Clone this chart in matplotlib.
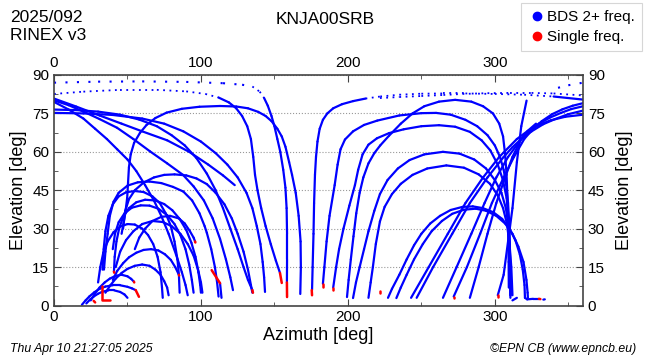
import matplotlib.pyplot as plt
from matplotlib.lines import Line2D

plt.rcParams['font.family'] = ['Liberation Sans', 'DejaVu Sans']

# Satellite tracks (azimuth deg, elevation deg)
tracks_upper = [
    [(343, 85), (350, 86), (360, 87)],
    [(0, 87), (30, 87.4), (60, 87.5), (90, 87.3), (115, 86.8), (128, 86.2), (135, 85.5), (140, 83.5),
     (143, 81), (145.5, 78), (148, 74), (150, 70), (152, 65), (154, 60), (156, 53), (157.5, 46),
     (158.3, 38), (158.6, 28), (158.6, 18), (158.5, 9)],
    [(46, 28), (48.5, 36), (49.8, 42), (50.4, 48), (51, 54), (52.2, 59), (54.5, 63.5), (58.5, 67.4),
     (63, 70.5), (69, 73.2), (76.6, 75.3), (87, 76.8), (99, 77.6), (113, 77.9), (124, 77.7), (132, 77),
     (139, 75.6), (144, 74), (148, 72), (152, 69), (155, 66), (157.5, 62), (160, 56), (162, 51),
     (164.5, 44), (166.5, 35), (167.8, 25), (168, 15), (167.6, 4.5)],
    [(0, 82.6), (20, 83.5), (45, 84.2), (70, 84.2), (90, 83.6), (103, 82.6), (112, 81.2), (119, 79.3),
     (124, 77), (128, 74), (131.5, 70), (134, 65), (135.6, 58), (136.8, 51), (138.5, 45), (141, 38),
     (144, 31), (147.5, 24), (151, 17.5), (153.8, 12.7)],
    [(0, 80.8), (15, 77.7), (31, 74.2), (46, 71), (60, 68), (77, 64.5), (92, 60), (105, 55), (115, 50.8),
     (123, 47)],
    [(0, 80.1), (10, 78.2), (19.7, 75.8), (31, 72.8), (42.9, 69.4), (54, 65), (65.3, 60.2), (77, 55.5),
     (87.8, 51), (95, 46.5), (102, 41), (108, 34), (113, 26), (117, 18), (120, 11), (121.8, 6)],
    [(0, 79.5), (10, 76.5), (20, 73), (28, 69), (36, 65), (43, 61), (50, 57), (56, 52.5), (62, 47),
     (68, 41), (73, 35), (78, 28), (83, 20), (87, 13), (89.5, 8), (91, 4)],
    [(0, 76.5), (15, 76.3), (30, 75.7), (45, 74.5), (58, 72.6), (70, 70), (80, 66.5), (89, 62.5),
     (97, 57.5), (104, 51.5), (110, 45), (115, 38), (120, 30), (125, 22), (129, 15), (132, 10), (135, 6)],
    [(0, 75.2), (20, 75), (40, 74.4), (60, 73), (75, 71), (88, 68), (100, 64), (110, 59.5), (118, 55),
     (125, 50), (131, 44), (135, 38), (138, 31), (140.5, 24), (142, 17), (143, 11), (143.6, 5.3)],
]

tracks_right = [
    [(175.6, 6), (176, 15), (176.6, 28), (177, 40), (177.6, 51), (178.3, 58), (179.3, 64), (180.8, 69),
     (183, 72.5), (186, 75), (190, 77), (196, 78.6), (203.5, 79.8), (212, 80.8), (222, 81.6), (235, 82.3),
     (250, 82.7), (265, 82.8), (280, 82.8), (300, 82.6), (320, 82.3), (340, 81.6), (360, 80.4)],
    [(221.8, 81), (235, 81.4), (250, 81.8), (265, 82.2), (278, 82.6), (295, 82.9), (310, 83), (325, 83),
     (340, 82.8), (360, 82)],
    [(183, 8.5), (184, 15), (185.5, 25), (187.5, 35), (191, 47), (193, 55), (195, 61), (198, 64.8),
     (203.5, 68), (211, 70.5), (220, 72.2), (235, 74.2), (250, 75.1), (260, 75.2), (270, 74.5), (280, 72.5),
     (288, 70), (295, 66.5), (300, 62.5), (303.5, 58), (306, 53), (307.8, 47), (309, 40), (309.8, 32),
     (310.2, 22), (310.4, 12), (310.5, 4)],
    [(190, 7), (192, 15), (194, 22), (197, 30), (201, 39), (204.8, 47), (207, 53), (210, 59), (214, 62.8),
     (219.8, 65.3), (228, 67.3), (238, 68.8), (250, 70), (262, 70.4), (273, 69.8), (283, 67.8), (291, 64.5),
     (297, 60.5), (302, 55), (305.5, 49), (308, 42), (309.5, 33), (310.2, 22), (310.5, 12), (310.6, 3)],
    [(199.4, 3.3), (200.5, 10), (202, 18), (203.8, 27), (205.7, 36), (208, 44), (210.5, 50), (214, 55.5),
     (218, 59.5), (222, 62.5), (228, 66.3), (236, 71), (244, 75), (252, 77.8), (262, 79.6), (273, 80.3),
     (284, 79.6), (292, 77.8), (298.7, 75), (303, 71), (305.6, 66), (307, 59), (308, 51), (308.7, 40),
     (309.1, 28), (309.4, 17), (309.5, 7)],
    [(203.5, 2.9), (205.5, 9), (208, 15), (211, 22), (214, 29), (218, 37), (221.8, 43.5), (227, 49),
     (234, 53.5), (242, 56.8), (252, 59), (264.7, 60), (276, 59.3), (286, 57), (294, 53.5), (300, 49),
     (304.5, 44), (307.5, 38), (309.3, 31), (310.2, 22), (310.6, 13), (310.8, 4)],
    [(214, 3), (215.5, 9), (217, 15), (219, 24), (221.8, 32.8), (225, 38.5), (230, 43.5), (236, 47.5),
     (244, 51), (254, 53.5), (267, 54.7), (279, 53.8), (289, 51.2), (296.7, 47.5), (302, 43), (305.6, 38),
     (308.2, 32), (310, 24), (311.2, 15), (312, 4)],
    [(227.3, 3), (230, 6.5), (235, 12), (240, 18), (245, 23.5), (250, 28), (256, 32), (262.7, 35),
     (270, 37.3), (278, 38.5), (285, 38.7), (292, 38), (299, 36.4), (305, 33.8), (310, 30), (314, 25.5),
     (317, 20), (319, 14), (320.2, 8), (320.5, 3), (322, 2.4), (326, 2.6), (330, 2.6)],
    [(233, 2.9), (236, 7), (240, 12), (245, 18), (251, 24), (257, 29), (264, 33), (271, 35.8), (279, 37.4),
     (287, 37.8), (294, 37), (301, 35), (307, 32), (312, 28), (316, 23), (319.5, 17), (321.5, 10),
     (322.3, 5), (322.5, 3)],
    [(243, 3), (255, 15), (268, 28), (280, 40), (292, 50), (303, 58), (315, 65), (322, 68), (330, 70.5),
     (338, 72.3), (348, 73.7), (360, 74.5)],
    [(246.8, 3), (258, 15), (271, 28), (283, 40), (295, 50), (306, 58), (312, 61.8), (318, 65), (325, 68),
     (333, 70.8), (341, 72.8), (350, 74.7), (360, 76.1)],
    [(264.7, 3), (274, 15), (284, 28), (293, 40), (301, 50), (309, 58), (318, 65), (324, 68.5), (330, 71),
     (338, 73.5), (345, 75.2), (352, 76.7), (360, 77.8)],
    [(272, 3.5), (281, 15), (290, 28), (298, 40), (306, 50), (313, 58), (320, 65), (326, 69), (332, 72),
     (339, 74.7), (346, 76.6), (353, 78), (360, 79)],
    [(283, 3), (289, 15), (295, 28), (301, 40), (307, 50), (312, 58), (318, 65), (323, 68.5), (328, 71)],
    [(302, 4), (306, 12), (309, 25), (312, 38), (315, 56), (318, 70), (321.6, 80)],
    [(312, 2), (315, 3)],
    [(333, 2.3), (334, 2.4)],
]

tracks_cluster = [
    [(34, 14), (35, 21), (36.5, 28), (38, 35), (40.5, 40.5), (44, 44), (50, 46.8), (57, 48.1), (65, 48.4),
     (73, 47.8), (81, 46.3), (88, 44.5), (94, 41), (99, 36), (102.5, 31), (104, 28.4), (107, 22),
     (109.5, 15), (111, 9), (112, 3.5)],
    [(47, 30), (48.5, 37), (51, 41.5), (55, 45), (61, 48), (68, 50), (75, 51), (82, 51.2), (90, 50.8),
     (97, 49.6), (104, 47.4), (110, 44), (116, 39.5), (121, 34), (125, 28), (129, 21), (132, 14), (134, 8),
     (135, 5)],
    [(33, 14), (33.8, 22), (35, 29), (37, 35), (40, 39.5), (44, 42.6), (49, 44.2), (55, 44.7), (61, 44.3),
     (67, 42.6), (72, 40), (76, 36), (79.5, 31), (82, 25), (84, 18), (85, 12), (85.5, 5)],
    [(40, 22), (41.5, 28), (44, 32.5), (48, 36), (53, 38.2), (59, 39.1), (65, 39), (71, 37.8), (77, 35.3),
     (82, 31.8), (86, 27.5), (89.5, 22), (92, 16), (93.8, 10), (95, 5)],
    [(42, 15), (45, 21), (49, 25.5), (54, 29), (60, 31.8), (67, 33), (74, 32.6), (80, 31), (86, 28),
     (91, 24), (95, 19.5), (98, 14), (100, 9), (101, 5)],
    [(30, 9), (31.5, 15), (33.5, 20.5), (36.5, 25), (40.5, 28.6), (45, 30.8), (50, 31.8), (55, 31.6),
     (60, 30), (64, 27.5), (67.5, 24), (70.5, 19), (72.5, 13), (73.5, 7), (74, 3)],
    [(55, 22), (58, 26.5), (62, 30), (67, 33), (73, 34.6), (79, 35), (85, 34), (89, 32), (92.5, 29),
     (95, 26.5), (96, 25)],
    [(40, 10), (43, 13.5), (47, 16.5), (51, 18.8), (56, 20.6), (61, 21.7), (66, 22), (71, 21.5),
     (75.5, 20), (79.5, 17.8), (82.5, 15), (85, 12)],
    [(35, 5), (38.5, 8), (42, 10.5), (46, 12.7), (50, 14.3), (55, 15.5), (60, 16), (65, 15.5), (69, 14),
     (72.5, 12), (75, 9.5), (77, 7), (78, 4)],
    [(25, 2), (28, 4.8), (31, 7), (34.5, 9), (38, 10.5), (42, 11.6), (46, 12), (50, 11.4), (52.5, 10.4),
     (54.4, 9.3)],
    [(19, 0.3), (21.5, 2), (24, 3.5), (27.5, 5.2), (31, 6.5), (35, 7.4), (40, 7.9), (45, 7.9), (50, 7.3),
     (53, 6.7), (55.6, 6)],
    [(22, 0.8), (24.5, 2.3), (27, 3.5), (30, 4.6), (33, 5.4), (37, 5.9), (41, 5.9), (45, 5.3), (48, 4.3),
     (50, 3)],
    [(40.8, 13.2), (41.3, 19), (42.5, 25), (44.3, 30), (47, 34.5), (51, 38), (56, 40.3), (62, 41.3),
     (69, 41), (75, 39.6), (80.5, 37.2), (85.5, 33.8), (90, 29.5), (93.5, 24.5), (96.3, 19), (98.3, 13),
     (99.5, 8), (100, 5)],
    [(113, 8.7), (114, 3)],
]

# single-frequency pieces
red_pieces = [
    [(33, 7.5), (33, 2), (38, 2)], [(27, 1.8), (28, 1.2)], [(107.3, 13.8), (113, 8.7)],
    [(153.8, 12.7), (155, 8.8)], [(158.5, 9), (158.6, 3.3)], [(135, 6), (135.4, 5)],
    [(175.4, 6), (175.6, 4)], [(183, 8.5), (183, 7.3)], [(190, 7), (190, 6)],
    [(221.8, 5.5), (221.8, 4.9)], [(272, 3.5), (272, 3)], [(302, 4), (302, 3.5)],
    [(330, 2.6), (331, 2.5)], [(40.8, 13.2), (41, 12.8)], [(54.4, 9.3), (54.6, 9)],
    [(55.6, 6), (57.8, 3.4)], [(85, 12), (85.2, 11.7)], [(96, 25), (96.2, 24.6)],
]

az_ticks = [0, 100, 200, 300]
el_ticks = [0, 15, 30, 45, 60, 75, 90]

fig = plt.figure(figsize=(6.5, 3.6), dpi=100)
ax = fig.add_axes([54 / 650, 54.5 / 360, 529 / 650, 230.5 / 360])

blue = '#0000ff'
red = '#ff0000'
for tr in tracks_upper + tracks_right + tracks_cluster:
    az = [p[0] for p in tr]
    el = [p[1] for p in tr]
    # near zenith the samples are sparse: draw those parts dotted
    for i in range(len(tr) - 1):
        lo = min(el[i], el[i + 1])
        if lo >= 85:
            ax.plot(az[i:i + 2], el[i:i + 2], color=blue, lw=1.5, ls=(0, (1, 4.5)))
        elif lo >= 80.5:
            ax.plot(az[i:i + 2], el[i:i + 2], color=blue, lw=1.3, ls=(0, (1, 2.5)))
        else:
            ax.plot(az[i:i + 2], el[i:i + 2], color=blue, lw=1.6, solid_capstyle='round')
for tr in red_pieces:
    ax.plot([p[0] for p in tr], [p[1] for p in tr], color=red, lw=1.8, solid_capstyle='round')

ax.set_xlim(0, 360)
ax.set_ylim(0, 90)
ax.set_xticks(az_ticks)
ax.set_xticks(range(0, 361, 50), minor=True)
ax.set_yticks(el_ticks)
ax.set_yticks([i * 7.5 for i in range(13)], minor=True)
ax.tick_params(which='both', direction='in', top=True, right=True, labeltop=True, labelright=True,
               labelsize=11, color='#444444')
ax.tick_params(which='major', length=5)
ax.tick_params(which='minor', length=3)
ax.grid(axis='y', ls=':', color='#999999', lw=0.8)
for s in ax.spines.values():
    s.set_color('#444444')
    s.set_linewidth(1.2)
ax.set_xlabel('Azimuth [deg]', fontsize=13, labelpad=2)
ax.set_ylabel('Elevation [deg]', fontsize=13, labelpad=4)
ax2 = ax.secondary_yaxis('right')
ax2.set_yticks([])
ax2.set_ylabel('Elevation [deg]', fontsize=13, labelpad=24)
ax2.spines['right'].set_visible(False)

fig.text(10 / 650, 1 - 18 / 360, '2025/092', fontsize=12.5, va='center')
fig.text(10 / 650, 1 - 35 / 360, 'RINEX v3', fontsize=12.5, va='center')
fig.text(0.5, 1 - 20 / 360, 'KNJA00SRB', fontsize=12.5, ha='center', va='center')
fig.text(10 / 650, 1 - 349 / 360, 'Thu Apr 10 21:27:05 2025', fontsize=8.8, style='italic', va='center')
fig.text(636 / 650, 1 - 349 / 360, '\u00a9EPN CB (www.epncb.eu)', fontsize=8.8, style='italic',
         ha='right', va='center')

handles = [Line2D([], [], ls='', marker='o', color=blue, ms=6, label='BDS 2+ freq.'),
           Line2D([], [], ls='', marker='o', color=red, ms=6, label='Single freq.')]
leg = fig.legend(handles=handles, loc='upper right', bbox_to_anchor=(642 / 650, 1 - 3 / 360),
                 fontsize=11, frameon=True, fancybox=False, handletextpad=0.1, borderpad=0.45,
                 labelspacing=0.4, handlelength=1.2, borderaxespad=0)
leg.get_frame().set_edgecolor('#cccccc')
leg.get_frame().set_linewidth(0.8)

fig.savefig('out.png', dpi=100)
